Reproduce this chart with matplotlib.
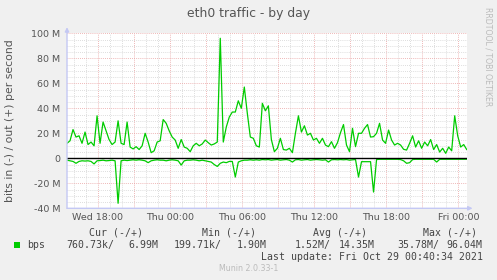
import numpy as np
import matplotlib
matplotlib.use('Agg')
import matplotlib.pyplot as plt

# ---------------- data (values in Mbit/s, 15-minute samples) ----------------
start_hour = 15.446          # hours since Wed 00:00 of first sample
step_hour = 0.25
out_bps = [12, 14, 23, 17, 18, 12, 21, 11, 13, 10, 34, 12, 29, 22, 15, 11, 13, 30, 12, 11, 29, 9, 7.5,
           9.3, 7, 10, 20, 13, 4.5, 6, 13, 14, 31, 28, 22, 17, 14.6, 8, 15, 9, 8, 5.3, 10, 12, 10, 11.5,
           14.6, 12.5, 10.6, 11.5, 13, 96, 13, 25, 33, 37, 37, 46, 40, 57, 36, 17, 16, 10, 9, 44, 38, 42, 15,
           5.3, 8, 16, 7, 6.6, 8, 4.5, 20, 34, 21, 26, 18.6, 20, 14.6, 16, 12, 16, 10.6, 9.3, 13.3, 8, 12.5,
           20.5, 27, 10.6, 5.3, 24, 9.3, 20, 20, 24, 27, 17, 17.3, 20, 28, 14.6, 12, 22.6, 14.6, 10.6, 12, 10.6, 7.2, 6.6,
           12, 18, 9, 14, 8, 13, 10, 15, 7, 11, 5, 8, 4, 9, 6, 34, 18, 9, 11, 7]
in_bps = [1.5, 2.0, 2.5, 4.0, 2.5, 2.0, 2.2, 2.0, 2.5, 4.5, 2.0, 1.8, 1.5, 2.0, 1.8, 1.5, 2.0, 36, 2.0, 1.5, 1.8, 1.5, 1.2,
          1.5, 1.2, 1.5, 2.0, 3.5, 2.0, 1.5, 1.2, 1.5, 1.5, 2.0, 1.5, 1.2, 1.5, 2.0, 5.4, 2.0, 1.5, 1.5, 1.2, 1.5, 2.0, 1.5,
          2.0, 2.5, 3.0, 5.0, 6.5, 4.0, 3.0, 3.5, 2.5, 2.5, 15, 3.0, 2.0, 1.5, 1.5, 1.2, 1.5, 1.2, 1.5, 1.0, 1.2, 1.0, 1.5,
          1.2, 1.0, 1.5, 1.2, 1.0, 1.5, 3.0, 1.2, 1.0, 1.5, 1.2, 1.0, 1.5, 1.2, 1.0, 1.2, 1.5, 1.2, 3.0, 1.2, 1.0, 1.2,
          1.0, 1.2, 1.0, 1.5, 1.2, 1.0, 15, 2.7, 2.7, 2.7, 2.7, 27, 1.0, 0.8, 0.8, 0.8, 0.8, 0.8, 0.8, 0.8, 1.0, 2.0, 4.0,
          3.5, 1.0, 0.8, 0.8, 0.8, 0.8, 0.8, 0.8, 0.8, 3.0, 0.8, 0.8, 0.8, 0.8, 0.8, 0.8, 0.8, 0.8, 0.8, 0.76]

y_ticks = [-40, -20, 0, 20, 40, 60, 80, 100]
y_labels = ['-40 M', '-20 M', '0', '20 M', '40 M', '60 M', '80 M', '100 M']
x_ticks = [18, 24, 30, 36, 42, 48]
x_labels = ['Wed 18:00', 'Thu 00:00', 'Thu 06:00', 'Thu 12:00', 'Thu 18:00', 'Fri 00:00']

legend_header = ['Cur (-/+)', 'Min (-/+)', 'Avg (-/+)', 'Max (-/+)']
legend_in = ['760.73k/', '199.71k/', '1.52M/', '35.78M/']
legend_out = ['6.99M', '1.90M', '14.35M', '96.04M']
series_name = 'bps'
last_update = 'Last update: Fri Oct 29 00:40:34 2021'

# ---------------- figure ----------------
W, H = 497, 280
GREEN = '#00CC00'
fig = plt.figure(figsize=(W / 100, H / 100), dpi=100, facecolor='#F0F0F0')
L, R, T, B = 67, 467, 33.3, 208.3
ax = fig.add_axes([L / W, 1 - B / H, (R - L) / W, (B - T) / H])
ax.set_facecolor('white')

t = start_hour + step_hour * np.arange(len(out_bps))
x0, x1 = 15.446, 48.72
ax.set_xlim(x0, x1)
ax.set_ylim(-40, 100)

# grid
for h in range(16, 49):
    if h % 3 == 0:
        ax.axvline(h, color='#E9A0A0', lw=0.6, ls=(0, (1, 1.5)), zorder=1)
    else:
        ax.axvline(h, color='#D2D2D2', lw=0.6, ls=(0, (1, 1.5)), zorder=1)
for v in range(-40, 101, 5):
    if v % 20 == 0:
        ax.axhline(v, color='#E9A0A0', lw=0.6, ls=(0, (1, 1.5)), zorder=1)
    else:
        ax.axhline(v, color='#D2D2D2', lw=0.6, ls=(0, (1, 1.5)), zorder=1)

ax.plot(t, out_bps, color=GREEN, lw=0.9, zorder=3)
ax.plot(t, -np.array(in_bps), color=GREEN, lw=0.9, zorder=3)
ax.axhline(0, color='black', lw=1.0, zorder=4)

for s in ax.spines.values():
    s.set_visible(False)
AX = '#C4C8F4'
ax.annotate('', xy=(0, 1.035), xytext=(0, 0), xycoords='axes fraction',
            arrowprops=dict(arrowstyle='-|>', color=AX, lw=1.0, mutation_scale=6, shrinkA=0, shrinkB=0),
            annotation_clip=False, zorder=5)
ax.annotate('', xy=(1.014, 0), xytext=(0, 0), xycoords='axes fraction',
            arrowprops=dict(arrowstyle='-|>', color=AX, lw=1.0, mutation_scale=6, shrinkA=0, shrinkB=0),
            annotation_clip=False, zorder=5)

ax.set_yticks(y_ticks)
ax.set_yticklabels(y_labels)
ax.set_xticks(x_ticks)
ax.set_xticklabels(x_labels)
ax.tick_params(axis='y', length=0, pad=5, labelsize=6.8, labelcolor='#555555')
ax.tick_params(axis='x', length=0, pad=3.3, labelsize=6.8, labelcolor='#555555')

def px(x, y):
    return x / W, 1 - y / H

fig.text(*px(248.5, 14), 'eth0 traffic - by day', ha='center', va='center', fontsize=8.9, color='#555555')
fig.text(*px(10.5, 120.8), 'bits in (-) / out (+) per second', ha='center', va='center', rotation=90,
         fontsize=7.8, color='#555555')
fig.text(*px(488, 56.5), 'RRDTOOL / TOBI OETIKER', ha='center', va='center', rotation=-90,
         fontsize=5.6, color='#BBBBBB')

MONO = dict(family='DejaVu Sans Mono', fontsize=7.1, color='#444444', va='center')
hx = [89.3, 201.7, 312.7, 423.3]
for x, s in zip(hx, legend_header):
    fig.text(*px(x, 232.7), s, ha='left', **MONO)
fig.patches.append(plt.Rectangle(px(14, 248.3), 6 / W, 6 / H, transform=fig.transFigure,
                                 facecolor=GREEN, edgecolor='none'))
fig.text(*px(26.7, 245), series_name, ha='left', **MONO)
inx = [66.7, 174, 295, 397.3]
outx = [158.3, 266.7, 375, 482.7]
for x, s in zip(inx, legend_in):
    fig.text(*px(x, 245), s, ha='left', **MONO)
for x, s in zip(outx, legend_out):
    fig.text(*px(x, 245), s, ha='right', **MONO)
fig.text(*px(482.7, 257.3), last_update, ha='right', **MONO)
fig.text(*px(248.3, 268.3), 'Munin 2.0.33-1', ha='center', va='center', fontsize=5.7, color='#BBBBBB')

fig.savefig('out.png', dpi=100, facecolor=fig.get_facecolor())
